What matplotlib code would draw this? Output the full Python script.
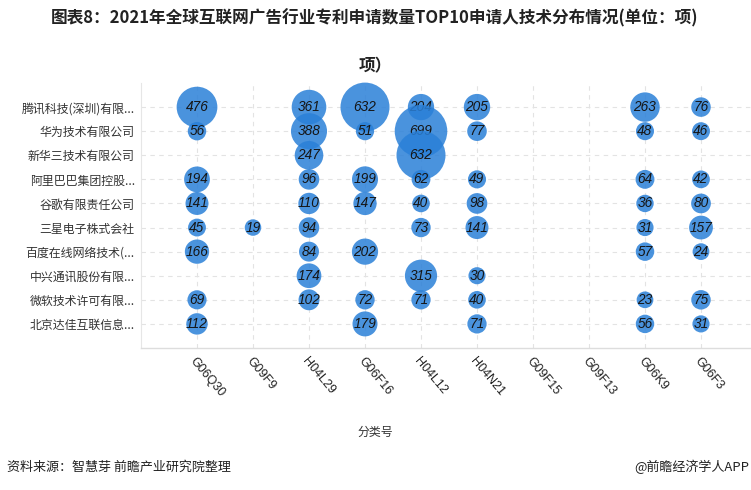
import matplotlib
matplotlib.use("Agg")
import matplotlib.pyplot as plt

plt.rcParams['font.family'] = ['Noto Sans CJK SC', 'DejaVu Sans']

companies = ['腾讯科技(深圳)有限...', '华为技术有限公司', '新华三技术有限公司', '阿里巴巴集团控股...',
             '谷歌有限责任公司', '三星电子株式会社', '百度在线网络技术(...', '中兴通讯股份有限...',
             '微软技术许可有限...', '北京达佳互联信息...']
codes = ['G06Q30', 'G09F9', 'H04L29', 'G06F16', 'H04L12', 'H04N21', 'G09F15', 'G09F13', 'G06K9', 'G06F3']

tencent   = [476, None, 361, 632, 204, 205, None, None, 263, 76]
huawei    = [56, None, 388, 51, 699, 77, None, None, 48, 46]
h3c       = [None, None, 247, None, 632, None, None, None, None, None]
alibaba   = [194, None, 96, 199, 62, 49, None, None, 64, 42]
google    = [141, None, 110, 147, 40, 98, None, None, 36, 80]
samsung   = [45, 19, 94, None, 73, 141, None, None, 31, 157]
baidu     = [166, None, 84, 202, None, None, None, None, 57, 24]
zte       = [None, None, 174, None, 315, 30, None, None, None, None]
microsoft = [69, None, 102, 72, 71, 40, None, None, 23, 75]
dajia     = [112, None, None, 179, None, 71, None, None, 56, 31]
counts = [tencent, huawei, h3c, alibaba, google, samsung, baidu, zte, microsoft, dajia]

W, H = 751, 490
fig = plt.figure(figsize=(W / 100, H / 100), dpi=100)
fig.patch.set_facecolor('white')

ax_l, ax_r, ax_t, ax_b = 141, 757, 83, 348
ax = fig.add_axes([ax_l / W, 1 - ax_b / H, (ax_r - ax_l) / W, (ax_b - ax_t) / H])
ax.set_xlim(-1, len(codes))
ax.set_ylim(len(companies), -1)

# grid
for i in range(len(codes)):
    ax.axvline(i, color='#e3e3e3', lw=0.8, ls=(0, (4, 4)), zorder=0)
for j in range(len(companies)):
    ax.axhline(j, color='#e3e3e3', lw=0.8, ls=(0, (4, 4)), zorder=0)

for s in ['top', 'right']:
    ax.spines[s].set_visible(False)
ax.spines['left'].set_color('#e6e6e6')
ax.spines['bottom'].set_color('#dddddd')
ax.spines['left'].set_linewidth(0.8)
ax.spines['bottom'].set_linewidth(1.0)

def size_of(v):
    d_px = 15.5 + 0.053 * v
    return (d_px * 0.72) ** 2

for j, row in enumerate(counts):
    xs = [i for i, v in enumerate(row) if v is not None]
    vs = [v for v in row if v is not None]
    ys = [j] * len(xs)
    ax.scatter(xs, ys, s=[size_of(v) for v in vs], color='#2a80d8', alpha=0.85,
               linewidths=0, zorder=2 + 2 * j, clip_on=False)
    for x, v in zip(xs, vs):
        ax.text(x, j, str(v), ha='center', va='center', fontsize=9.8,
                family=['Liberation Sans', 'DejaVu Sans'], style='italic',
                color='#151515', zorder=3 + 2 * j)

ax.set_yticks(range(len(companies)))
ax.set_yticklabels(companies, fontsize=8.6, color='#333333')
ax.tick_params(axis='y', length=0, pad=4.5)

ax.set_xticks(range(len(codes)))
ax.set_xticklabels(codes, fontsize=9, color='#222222', rotation=-50,
                   ha='left', va='top', rotation_mode='anchor',
                   family=['Liberation Sans', 'DejaVu Sans'])
ax.tick_params(axis='x', length=0, pad=5)

fig.text(375 / W, 1 - 432 / H, '分类号', ha='center', va='center', fontsize=8.6, color='#333333')

fig.text(375 / W, 1 - 18 / H, '图表8：2021年全球互联网广告行业专利申请数量TOP10申请人技术分布情况(单位：项)',
         ha='center', va='center', fontsize=12, fontweight='bold', color='#222222')
fig.text(375 / W, 1 - 66 / H, '项）', ha='center', va='center', fontsize=12,
         fontweight='bold', color='#222222')

fig.text(7 / W, 1 - 467 / H, '资料来源：智慧芽 前瞻产业研究院整理', ha='left', va='center',
         fontsize=9.4, color='#222222')
fig.text(749 / W, 1 - 467 / H, '@前瞻经济学人APP', ha='right', va='center',
         fontsize=9.4, color='#222222')

fig.savefig('out.png', dpi=100, facecolor='white')
